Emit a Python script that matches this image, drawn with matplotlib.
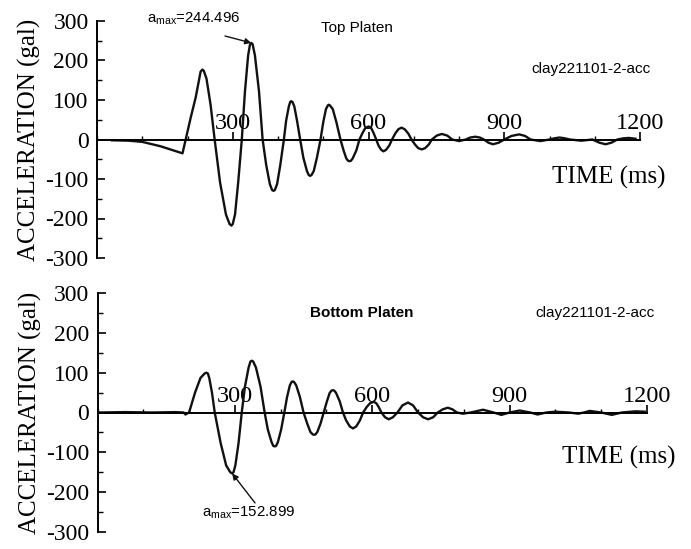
import matplotlib
matplotlib.use("Agg")
import matplotlib.pyplot as plt
from matplotlib.ticker import MultipleLocator, FixedLocator

plt.rcParams['axes.unicode_minus'] = False

# ---------------- data ----------------
top_t = [33, 70, 100, 140, 189,
         196, 207, 218, 226, 229, 233, 236, 242, 251, 260,
         272, 285, 293, 297, 300, 305, 312, 320,
         327, 334, 338, 341, 344, 349, 358, 366,
         374, 382, 387, 390, 393, 398, 405, 413,
         418, 424, 427, 429, 432, 436, 442, 449,
         456, 464, 468, 471, 474, 479, 486, 494,
         500, 506, 510, 512, 515, 521, 529, 538,
         545, 551, 555, 558, 561, 565, 573, 580,
         587, 593, 600, 606, 611, 617,
         622, 628, 633, 639, 646, 652,
         659, 666, 673, 680, 688, 695,
         703, 710, 718, 725, 733, 740,
         751, 762, 774, 785,
         800, 815,
         825, 836, 846, 855,
         865, 875, 888, 900,
         916, 933, 946, 958,
         980, 1000,
         1011, 1022, 1034, 1045,
         1070, 1095,
         1110, 1124, 1137, 1150,
         1163, 1175, 1190]
top_a = [-2, -3, -6, -17, -35,
         0, 55, 106, 155, 172, 177, 174, 154, 88, 0,
         -109, -190, -214, -218, -214, -190, -109, 0,
         122, 213, 240, 244.496, 241, 213, 122, 0,
         -65, -113, -128, -130, -128, -113, -65, 0,
         48, 84, 95, 97, 95, 84, 48, 0,
         -46, -80, -90, -92, -90, -80, -46, 0,
         44, 77, 86, 88, 86, 77, 44, 0,
         -28, -48, -54, -55, -54, -48, -28, 0,
         17, 29, 33, 29, 17, 0,
         -15, -26, -30, -26, -15, 0,
         15, 26, 30, 26, 15, 0,
         -13, -22, -25, -22, -13, 0,
         10, 14, 10, 0,
         -4, 0,
         5, 7, 5, 0,
         -8, -12, -8, 0,
         9, 13, 9, 0,
         -4, 0,
         3, 5, 3, 0,
         -3, 0,
         -8, -12, -8, 0,
         3, 4, 2]

bot_t = [3, 60, 120, 170, 188, 192, 200,
         213, 225, 234, 238, 241, 244, 250, 256,
         269, 281, 290, 294, 297, 301, 308, 315,
         322, 330, 334, 337, 340, 346, 356, 365,
         372, 380, 384, 387, 390, 394, 401, 408,
         414, 420, 424, 426, 429, 434, 442, 450,
         458, 465, 470, 473, 476, 480, 487, 494,
         501, 507, 511, 514, 517, 521, 529, 536,
         543, 551, 558, 565, 573, 580,
         588, 595, 603, 609, 614, 620,
         628, 636, 645, 655,
         666, 678, 689, 700,
         711, 722, 733, 743,
         754, 765, 775, 785,
         798, 815,
         842, 865,
         882, 900,
         922, 945,
         961, 980,
         1000, 1030,
         1050, 1062,
         1075, 1100,
         1123, 1145,
         1175, 1195]
bot_a = [0, 1, 0, 1, 0, -5, 0,
         50, 87, 98, 100, 98, 87, 50, 0,
         -77, -133, -150, -152.899, -150, -133, -77, 0,
         65, 113, 128, 130, 128, 113, 65, 0,
         -43, -74, -84, -85, -84, -74, -43, 0,
         39, 68, 77, 78, 77, 68, 39, 0,
         -28, -49, -55, -56, -55, -49, -28, 0,
         28, 49, 55, 56, 55, 49, 28, 0,
         -20, -35, -40, -35, -20, 0,
         14, 23, 27, 23, 14, 0,
         -12, -17, -12, 0,
         18, 25, 18, 0,
         -12, -17, -12, 0,
         8, 12, 8, 0,
         -3, 0,
         7, 0,
         -6, 0,
         5, 0,
         -5, 0,
         2, 0,
         -3, 0,
         4, 0,
         -6, 0,
         3, 2]

x_major = [300, 600, 900, 1200]
x_labels = ['300', '600', '900', '1200']
y_major = [-300, -200, -100, 0, 100, 200, 300]
y_labels = ['-300', '-200', '-100', '0', '100', '200', '300']

top_peak = (341, 244.496)
bot_peak = (294, -152.899)

SERIF = 'Liberation Serif'
SANS = 'Liberation Sans'

fig = plt.figure(figsize=(6.91, 5.49), dpi=100)
ax1 = fig.add_axes([97 / 691, 1 - 258 / 549, 543 / 691, 237 / 549])
ax2 = fig.add_axes([97.5 / 691, 1 - 532 / 549, 549.5 / 691, 239 / 549])


def style(ax):
    ax.set_xlim(0, 1200)
    ax.set_ylim(-300, 300)
    for s in ('top', 'right'):
        ax.spines[s].set_visible(False)
    ax.spines['bottom'].set_position(('data', 0))
    ax.spines['bottom'].set_linewidth(1.4)
    ax.spines['left'].set_linewidth(1.4)
    ax.xaxis.set_major_locator(FixedLocator(x_major))
    ax.set_xticklabels(x_labels, fontfamily=SERIF, fontsize=17.5)
    ax.xaxis.set_minor_locator(MultipleLocator(100))
    ax.yaxis.set_major_locator(FixedLocator(y_major))
    ax.set_yticklabels(y_labels, fontfamily=SERIF, fontsize=17)
    ax.yaxis.set_minor_locator(MultipleLocator(50))
    ax.tick_params(axis='x', which='major', direction='in', length=6, width=1.2, pad=-7.5)
    ax.tick_params(axis='x', which='minor', direction='in', length=3, width=1.0)
    ax.tick_params(axis='y', which='major', direction='in', length=6, width=1.2, pad=6)
    ax.tick_params(axis='y', which='minor', direction='in', length=3.5, width=1.0)
    for lab in ax.get_xticklabels():
        lab.set_verticalalignment('baseline')
    ax.set_ylabel('ACCELERATION (gal)', fontfamily=SERIF, fontsize=18, labelpad=3)
    ax.patch.set_alpha(0)


style(ax1)
style(ax2)

ax1.plot(top_t, top_a, color='#111111', lw=1.7, solid_joinstyle='round')
ax2.plot(bot_t, bot_a, color='#111111', lw=1.7, solid_joinstyle='round')

# top annotations
ax1.text(110, 305, r'$\mathregular{a_{max}}$=244.496', fontfamily=SANS, fontsize=10.8,
         ha='left', va='center', clip_on=False)
ax1.annotate('', xy=top_peak, xytext=(283, 262), annotation_clip=False,
             arrowprops=dict(arrowstyle='-|>', color='#111111', lw=1.0, mutation_scale=9,
                             shrinkA=0, shrinkB=0))
ax1.text(575, 282, 'Top Platen', fontfamily=SANS, fontsize=11, ha='center', va='center')
ax1.text(1092, 178, 'clay221101-2-acc', fontfamily=SANS, fontsize=11, ha='center', va='center')
ax1.text(1131, -97, 'TIME (ms)', fontfamily=SERIF, fontsize=18, ha='center', va='center')

# bottom annotations
ax2.text(578, 250, 'Bottom Platen', fontfamily=SANS, fontsize=11, fontweight='bold',
         ha='center', va='center')
ax2.text(1087, 250, 'clay221101-2-acc', fontfamily=SANS, fontsize=11, ha='center', va='center')
ax2.text(1139, -114, 'TIME (ms)', fontfamily=SERIF, fontsize=18, ha='center', va='center')
ax2.text(329, -252, r'$\mathregular{a_{max}}$=152.899', fontfamily=SANS, fontsize=10.8,
         ha='center', va='center', clip_on=False)
ax2.annotate('', xy=bot_peak, xytext=(344, -227), annotation_clip=False,
             arrowprops=dict(arrowstyle='-|>', color='#111111', lw=1.0, mutation_scale=9,
                             shrinkA=0, shrinkB=0))

fig.savefig('out.png', dpi=100)
